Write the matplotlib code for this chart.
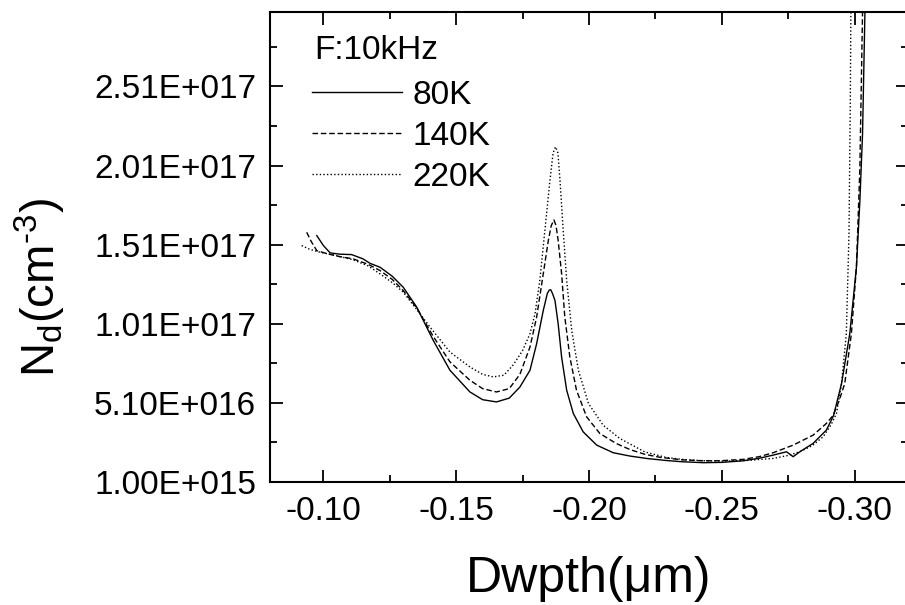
import numpy as np
import matplotlib
matplotlib.use('Agg')
import matplotlib.pyplot as plt
from matplotlib.ticker import FixedLocator, MultipleLocator

plt.rcParams['font.family'] = ['Liberation Sans', 'DejaVu Sans']
plt.rcParams['mathtext.fontset'] = 'custom'
plt.rcParams['mathtext.rm'] = 'Liberation Sans'
plt.rcParams['mathtext.it'] = 'Liberation Sans'

# 80K (solid)
x_80k = [-0.0976, -0.1001, -0.1026, -0.1060, -0.1107, -0.1150, -0.1176, -0.1214,
         -0.1260, -0.1301, -0.1352, -0.1414, -0.1477, -0.1552, -0.1600, -0.1652,
         -0.1700, -0.1740, -0.1778, -0.1803, -0.1828, -0.1843, -0.1850, -0.1856,
         -0.1863, -0.1872, -0.1884, -0.1897, -0.1916, -0.1941, -0.1978, -0.2029,
         -0.2091, -0.2154, -0.2220, -0.2290, -0.2350, -0.2430, -0.2500, -0.2580,
         -0.2640, -0.2693, -0.2743, -0.2768, -0.2793, -0.2843, -0.2893, -0.2920,
         -0.2950, -0.2981, -0.3006, -0.3019, -0.3029, -0.3038, -0.3042]
y_80k = [1.567e17, 1.504e17, 1.458e17, 1.450e17, 1.447e17, 1.420e17, 1.392e17, 1.367e17,
         1.310e17, 1.241e17, 1.115e17, 9.05e16, 7.16e16, 5.79e16, 5.30e16, 5.16e16,
         5.40e16, 6.10e16, 7.16e16, 8.84e16, 1.094e17, 1.200e17, 1.222e17, 1.225e17,
         1.200e17, 1.157e17, 1.010e17, 7.99e16, 5.90e16, 4.43e16, 3.27e16, 2.43e16,
         1.95e16, 1.74e16, 1.58e16, 1.46e16, 1.38e16, 1.32e16, 1.34e16, 1.44e16,
         1.60e16, 1.80e16, 2.01e16, 1.70e16, 2.01e16, 2.54e16, 3.38e16, 4.30e16,
         6.32e16, 9.47e16, 1.367e17, 1.787e17, 2.21e17, 2.98e17, 3.20e17]

# 140K (dashed)
x_140k = [-0.0938, -0.0955, -0.0976, -0.1019, -0.1060, -0.1113, -0.1170, -0.1214,
          -0.1260, -0.1301, -0.1352, -0.1414, -0.1477, -0.1552, -0.1600, -0.1652,
          -0.1700, -0.1740, -0.1778, -0.1803, -0.1828, -0.1847, -0.1858, -0.1868,
          -0.1876, -0.1884, -0.1897, -0.1909, -0.1928, -0.1953, -0.1991, -0.2041,
          -0.2103, -0.2154, -0.2210, -0.2267, -0.2350, -0.2430, -0.2500, -0.2580,
          -0.2640, -0.2693, -0.2768, -0.2843, -0.2893, -0.2918, -0.2940, -0.2962,
          -0.2987, -0.3006, -0.3019, -0.3029, -0.3032]
y_140k = [1.588e17, 1.530e17, 1.472e17, 1.451e17, 1.435e17, 1.420e17, 1.385e17, 1.346e17,
          1.290e17, 1.220e17, 1.110e17, 9.30e16, 7.69e16, 6.53e16, 6.00e16, 5.79e16,
          6.00e16, 6.90e16, 8.63e16, 1.052e17, 1.326e17, 1.536e17, 1.630e17, 1.666e17,
          1.630e17, 1.536e17, 1.326e17, 1.052e17, 7.99e16, 5.90e16, 4.22e16, 3.16e16,
          2.53e16, 2.15e16, 1.85e16, 1.66e16, 1.50e16, 1.44e16, 1.45e16, 1.53e16,
          1.70e16, 1.95e16, 2.43e16, 3.06e16, 3.80e16, 4.30e16, 5.20e16, 6.32e16,
          9.47e16, 1.367e17, 1.998e17, 2.98e17, 3.20e17]

# 220K (dotted)
x_220k = [-0.0919, -0.0950, -0.0988, -0.1050, -0.1113, -0.1170, -0.1214, -0.1260,
          -0.1301, -0.1352, -0.1402, -0.1477, -0.1552, -0.1600, -0.1640, -0.1680,
          -0.1715, -0.1750, -0.1778, -0.1797, -0.1815, -0.1834, -0.1853, -0.1865,
          -0.1874, -0.1883, -0.1891, -0.1903, -0.1916, -0.1935, -0.1960, -0.1998,
          -0.2053, -0.2116, -0.2160, -0.2210, -0.2290, -0.2367, -0.2440, -0.2517,
          -0.2600, -0.2693, -0.2750, -0.2793, -0.2840, -0.2881, -0.2910, -0.2931,
          -0.2950, -0.2968, -0.2978, -0.2983, -0.2986]
y_220k = [1.504e17, 1.480e17, 1.462e17, 1.440e17, 1.414e17, 1.375e17, 1.325e17, 1.270e17,
          1.210e17, 1.100e17, 9.89e16, 8.31e16, 7.37e16, 6.90e16, 6.74e16, 6.85e16,
          7.50e16, 8.40e16, 9.47e16, 1.074e17, 1.284e17, 1.599e17, 1.914e17, 2.090e17,
          2.128e17, 2.090e17, 1.914e17, 1.599e17, 1.284e17, 9.68e16, 7.16e16, 5.06e16,
          3.69e16, 2.85e16, 2.45e16, 2.00e16, 1.65e16, 1.50e16, 1.44e16, 1.42e16,
          1.47e16, 1.59e16, 1.78e16, 2.01e16, 2.40e16, 2.96e16, 3.70e16, 4.43e16,
          6.32e16, 9.47e16, 1.578e17, 2.42e17, 3.20e17]

y_ticks = [1.00e15, 5.10e16, 1.01e17, 1.51e17, 2.01e17, 2.51e17]
y_tick_labels = ['1.00E+015', '5.10E+016', '1.01E+017', '1.51E+017', '2.01E+017', '2.51E+017']
x_ticks = [-0.10, -0.15, -0.20, -0.25, -0.30]
x_tick_labels = ['-0.10', '-0.15', '-0.20', '-0.25', '-0.30']

fig = plt.figure(figsize=(9.05, 6.05), dpi=100)
ax = fig.add_axes([270 / 905, (605 - 482) / 605, 638 / 905, 470 / 605])

ax.plot(x_80k, y_80k, color='black', lw=1.0, ls='-', label='80K')
ax.plot(x_140k, y_140k, color='black', lw=1.0, ls=(0, (4, 2)), label='140K')
ax.plot(x_220k, y_220k, color='black', lw=1.0, ls=(0, (1, 1.6)), label='220K')

ax.set_xlim(-0.08, -0.32)
ax.set_ylim(1.0e15, 2.98e17)

ax.xaxis.set_major_locator(FixedLocator(x_ticks))
ax.set_xticklabels(x_tick_labels)
ax.xaxis.set_minor_locator(MultipleLocator(0.025))
ax.yaxis.set_major_locator(FixedLocator(y_ticks))
ax.set_yticklabels(y_tick_labels)
ax.yaxis.set_minor_locator(FixedLocator([v + 2.5e16 for v in y_ticks]))

ax.tick_params(which='both', direction='in', top=True, right=True, width=1.3,
               labelsize=24, color='black')
ax.tick_params(which='major', length=9, pad=10)
ax.tick_params(which='minor', length=5)
for s in ax.spines.values():
    s.set_linewidth(1.5)

ax.set_xlabel('Dwpth(μm)', fontsize=36, labelpad=21)
ax.set_ylabel('N$_\\mathregular{d}$(cm$^\\mathregular{\u20103}$)', fontsize=34)
ax.yaxis.set_label_coords(-0.316, 0.413)

# legend: title as plain text, entries below it
ax.text(0.069, 0.952, 'F:10kHz', transform=ax.transAxes, fontsize=24,
        ha='left', va='top')
leg = ax.legend(loc='upper left', bbox_to_anchor=(0.066, 0.856), frameon=False,
                fontsize=24, handlelength=2.7, handletextpad=0.3, labelspacing=0.30,
                borderpad=0, borderaxespad=0)

fig.savefig('out.png', dpi=100)
